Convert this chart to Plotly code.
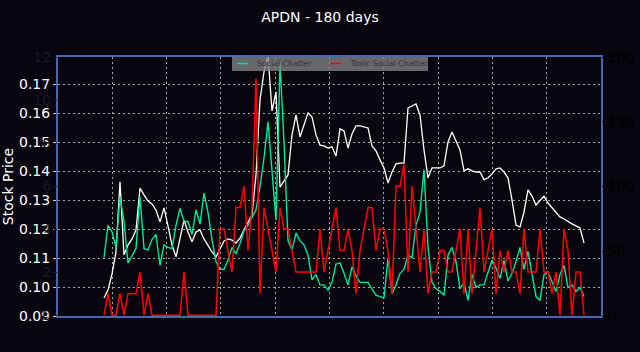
import plotly.graph_objects as go

# Stock price (left axis)
stock = [0.0962, 0.0990, 0.1045, 0.1121, 0.1363, 0.1111, 0.1145, 0.1166, 0.1197, 0.1342,
         0.1318, 0.1297, 0.1287, 0.1266, 0.1225, 0.1273, 0.1211, 0.1145, 0.1104, 0.1173,
         0.1231, 0.1190, 0.1156, 0.1190, 0.1197, 0.1166, 0.1142, 0.1121, 0.1104, 0.1131,
         0.1159, 0.1166, 0.1162, 0.1152, 0.1169, 0.1197, 0.1221, 0.1249, 0.1387, 0.1646,
         0.1743, 0.1800, 0.1608, 0.1673, 0.1345, 0.1366, 0.1387, 0.1525, 0.1594, 0.1518,
         0.1560, 0.1601, 0.1587, 0.1525, 0.1490, 0.1487, 0.1480, 0.1484, 0.1452, 0.1546,
         0.1539, 0.1480, 0.1528, 0.1556, 0.1556, 0.1553, 0.1549, 0.1487, 0.1470, 0.1439,
         0.1411, 0.1359, 0.1397, 0.1425, 0.1428, 0.1428, 0.1618, 0.1625, 0.1632, 0.1594,
         0.1473, 0.1377, 0.1411, 0.1411, 0.1411, 0.1418, 0.1501, 0.1535, 0.1504, 0.1473,
         0.1401, 0.1408, 0.1401, 0.1397, 0.1397, 0.1370, 0.1377, 0.1390, 0.1408, 0.1411,
         0.1397, 0.1377, 0.1301, 0.1214, 0.1207, 0.1259, 0.1335, 0.1314, 0.1283, 0.1297,
         0.1314, 0.1290, 0.1273, 0.1259, 0.1242, 0.1235, 0.1225, 0.1218, 0.1211, 0.1204,
         0.1152]

# Social chatter counts (hidden right axis 0-200)
social = [45, 70, 65, 53, 92, 73, 41, 46, 52, 92,
          52, 51, 59, 63, 39, 55, 53, 52, 70, 83,
          73, 73, 63, 82, 71, 95, 80, 59, 42, 36,
          36, 43, 53, 48, 56, 66, 70, 76, 82, 100,
          122, 150, 115, 74, 195, 134, 58, 51, 64, 58,
          55, 47, 28, 32, 24, 24, 20, 26, 40, 41,
          33, 24, 38, 31, 26, 26, 26, 21, 16, 15,
          14, 45, 17, 24, 33, 36, 47, 45, 70, 80,
          113, 53, 26, 21, 19, 16, 47, 53, 42, 21,
          26, 12, 32, 22, 24, 24, 33, 43, 37, 29,
          43, 27, 33, 42, 53, 36, 50, 31, 15, 12,
          32, 34, 27, 19, 32, 39, 22, 24, 19, 22,
          15]

# Toxic social chatter counts (hidden left axis 0-12)
toxic = [0, 1, 0, 0, 1, 0, 1, 1, 1, 2,
         0, 1, 0, 0, 0, 0, 0, 0, 0, 0,
         2, 0, 0, 0, 0, 0, 0, 0, 0, 4,
         4, 3, 2, 5, 5, 6, 3, 5, 11, 1,
         5, 4, 3, 2, 5, 4, 4, 3, 2, 2,
         2, 2, 2, 2, 4, 2, 3, 4, 5, 3,
         3, 4, 3, 1, 3, 4, 5, 5, 3, 4,
         4, 3, 1, 6, 6, 7, 2, 6, 4, 2,
         4, 1, 2, 2, 3, 3, 2, 2, 3, 4,
         1, 4, 1, 3, 5, 2, 3, 4, 1, 3,
         2, 3, 2, 2, 1, 4, 2, 2, 2, 4,
         2, 2, 1, 2, 0, 4, 3, 0, 2, 2,
         0]

days = list(range(len(stock)))

price_ticks = [0.09, 0.10, 0.11, 0.12, 0.13, 0.14, 0.15, 0.16, 0.17]
social_ticks = [0, 50, 100, 150, 200]
toxic_ticks = [0, 2, 4, 6, 8, 10, 12]

series_names = ["Social Chatter", "Toxic Social Chatter"]
series_colors = ["#00e69a", "#ff0000"]

BG = "#08050f"
SPINE = "#4869b0"
GRID = "#a8a8a8"
FONT = "DejaVu Sans"

W, H = 640, 352
ML, MR, MT, MB = 58, 39, 57, 36
PW, PH = W - ML - MR, H - MT - MB


def px_x(p):
    return (p - ML) / PW


def px_y(p):
    return 1 - (p - MT) / PH


fig = go.Figure()
fig.add_trace(go.Scatter(x=days, y=stock, mode="lines", showlegend=False,
                         line=dict(color="#ffffff", width=1.3), yaxis="y"))
fig.add_trace(go.Scatter(x=days, y=social, mode="lines", name=series_names[0], showlegend=False,
                         line=dict(color=series_colors[0], width=1.4), yaxis="y2"))
fig.add_trace(go.Scatter(x=days, y=toxic, mode="lines", name=series_names[1], showlegend=False,
                         line=dict(color=series_colors[1], width=1.5), yaxis="y3"))

# legend box drawn as shapes + text
shapes = [dict(type="rect", xref="paper", yref="paper",
               x0=px_x(232), x1=px_x(428), y0=px_y(71), y1=px_y(57),
               fillcolor="rgba(128,128,134,0.8)", line=dict(width=0), layer="above")]
annotations = []
legend_items = [(237, 255), (330, 348)]
for (lx, tx), name, col in zip(legend_items, series_names, series_colors):
    shapes.append(dict(type="line", xref="paper", yref="paper",
                       x0=px_x(lx), x1=px_x(lx + 11), y0=px_y(63.5), y1=px_y(63.5),
                       line=dict(color=col, width=1.5), layer="above"))
    annotations.append(dict(text=name, xref="paper", yref="paper", x=px_x(tx), y=px_y(63.8),
                            xanchor="left", yanchor="middle", showarrow=False,
                            font=dict(size=7.8, color="#333333", family=FONT)))

fig.update_layout(
    width=W, height=H,
    paper_bgcolor=BG, plot_bgcolor=BG,
    margin=dict(l=ML, r=MR, t=MT, b=MB),
    font=dict(family=FONT, color="#ffffff"),
    showlegend=False,
    title=dict(text="APDN - 180 days", x=0.5, xanchor="center", y=0.952, yanchor="middle",
               font=dict(size=14, color="#ffffff", family=FONT)),
    xaxis=dict(range=[-11.5, 124.25], tick0=-11.5, dtick=13.575, showticklabels=False,
               showgrid=True, gridcolor=GRID, griddash="2px,3px", gridwidth=1,
               zeroline=False, showline=True, mirror=True, linecolor=SPINE, linewidth=2,
               ticks="", automargin=False, layer="below traces"),
    yaxis=dict(range=[0.09, 0.1794], tickvals=price_ticks,
               ticktext=[f"{v:.2f}" for v in price_ticks],
               tickfont=dict(size=14, color="#ffffff"),
               showgrid=True, gridcolor=GRID, griddash="2px,3px", gridwidth=1,
               zeroline=False, showline=True, mirror=True, linecolor=SPINE, linewidth=2,
               ticks="outside", ticklen=3, tickcolor="#cccccc", automargin=False,
               title=dict(text="Stock Price", font=dict(size=14, color="#ffffff"), standoff=5)),
    yaxis2=dict(overlaying="y", side="right", range=[0, 200], tickvals=social_ticks,
                tickfont=dict(size=14, color="#000000"), showgrid=False, zeroline=False,
                showline=False, ticks="outside", ticklen=3, tickcolor="#000000", automargin=False),
    yaxis3=dict(overlaying="y", side="left", anchor="x", range=[-0.04, 12], tickvals=toxic_ticks,
                tickfont=dict(size=14, color="#1a1a22"), showgrid=False, zeroline=False,
                showline=False, ticks="outside", ticklen=3, tickcolor="#1a1a22", automargin=False),
    shapes=shapes,
    annotations=annotations,
)

fig.write_html("out.html")
